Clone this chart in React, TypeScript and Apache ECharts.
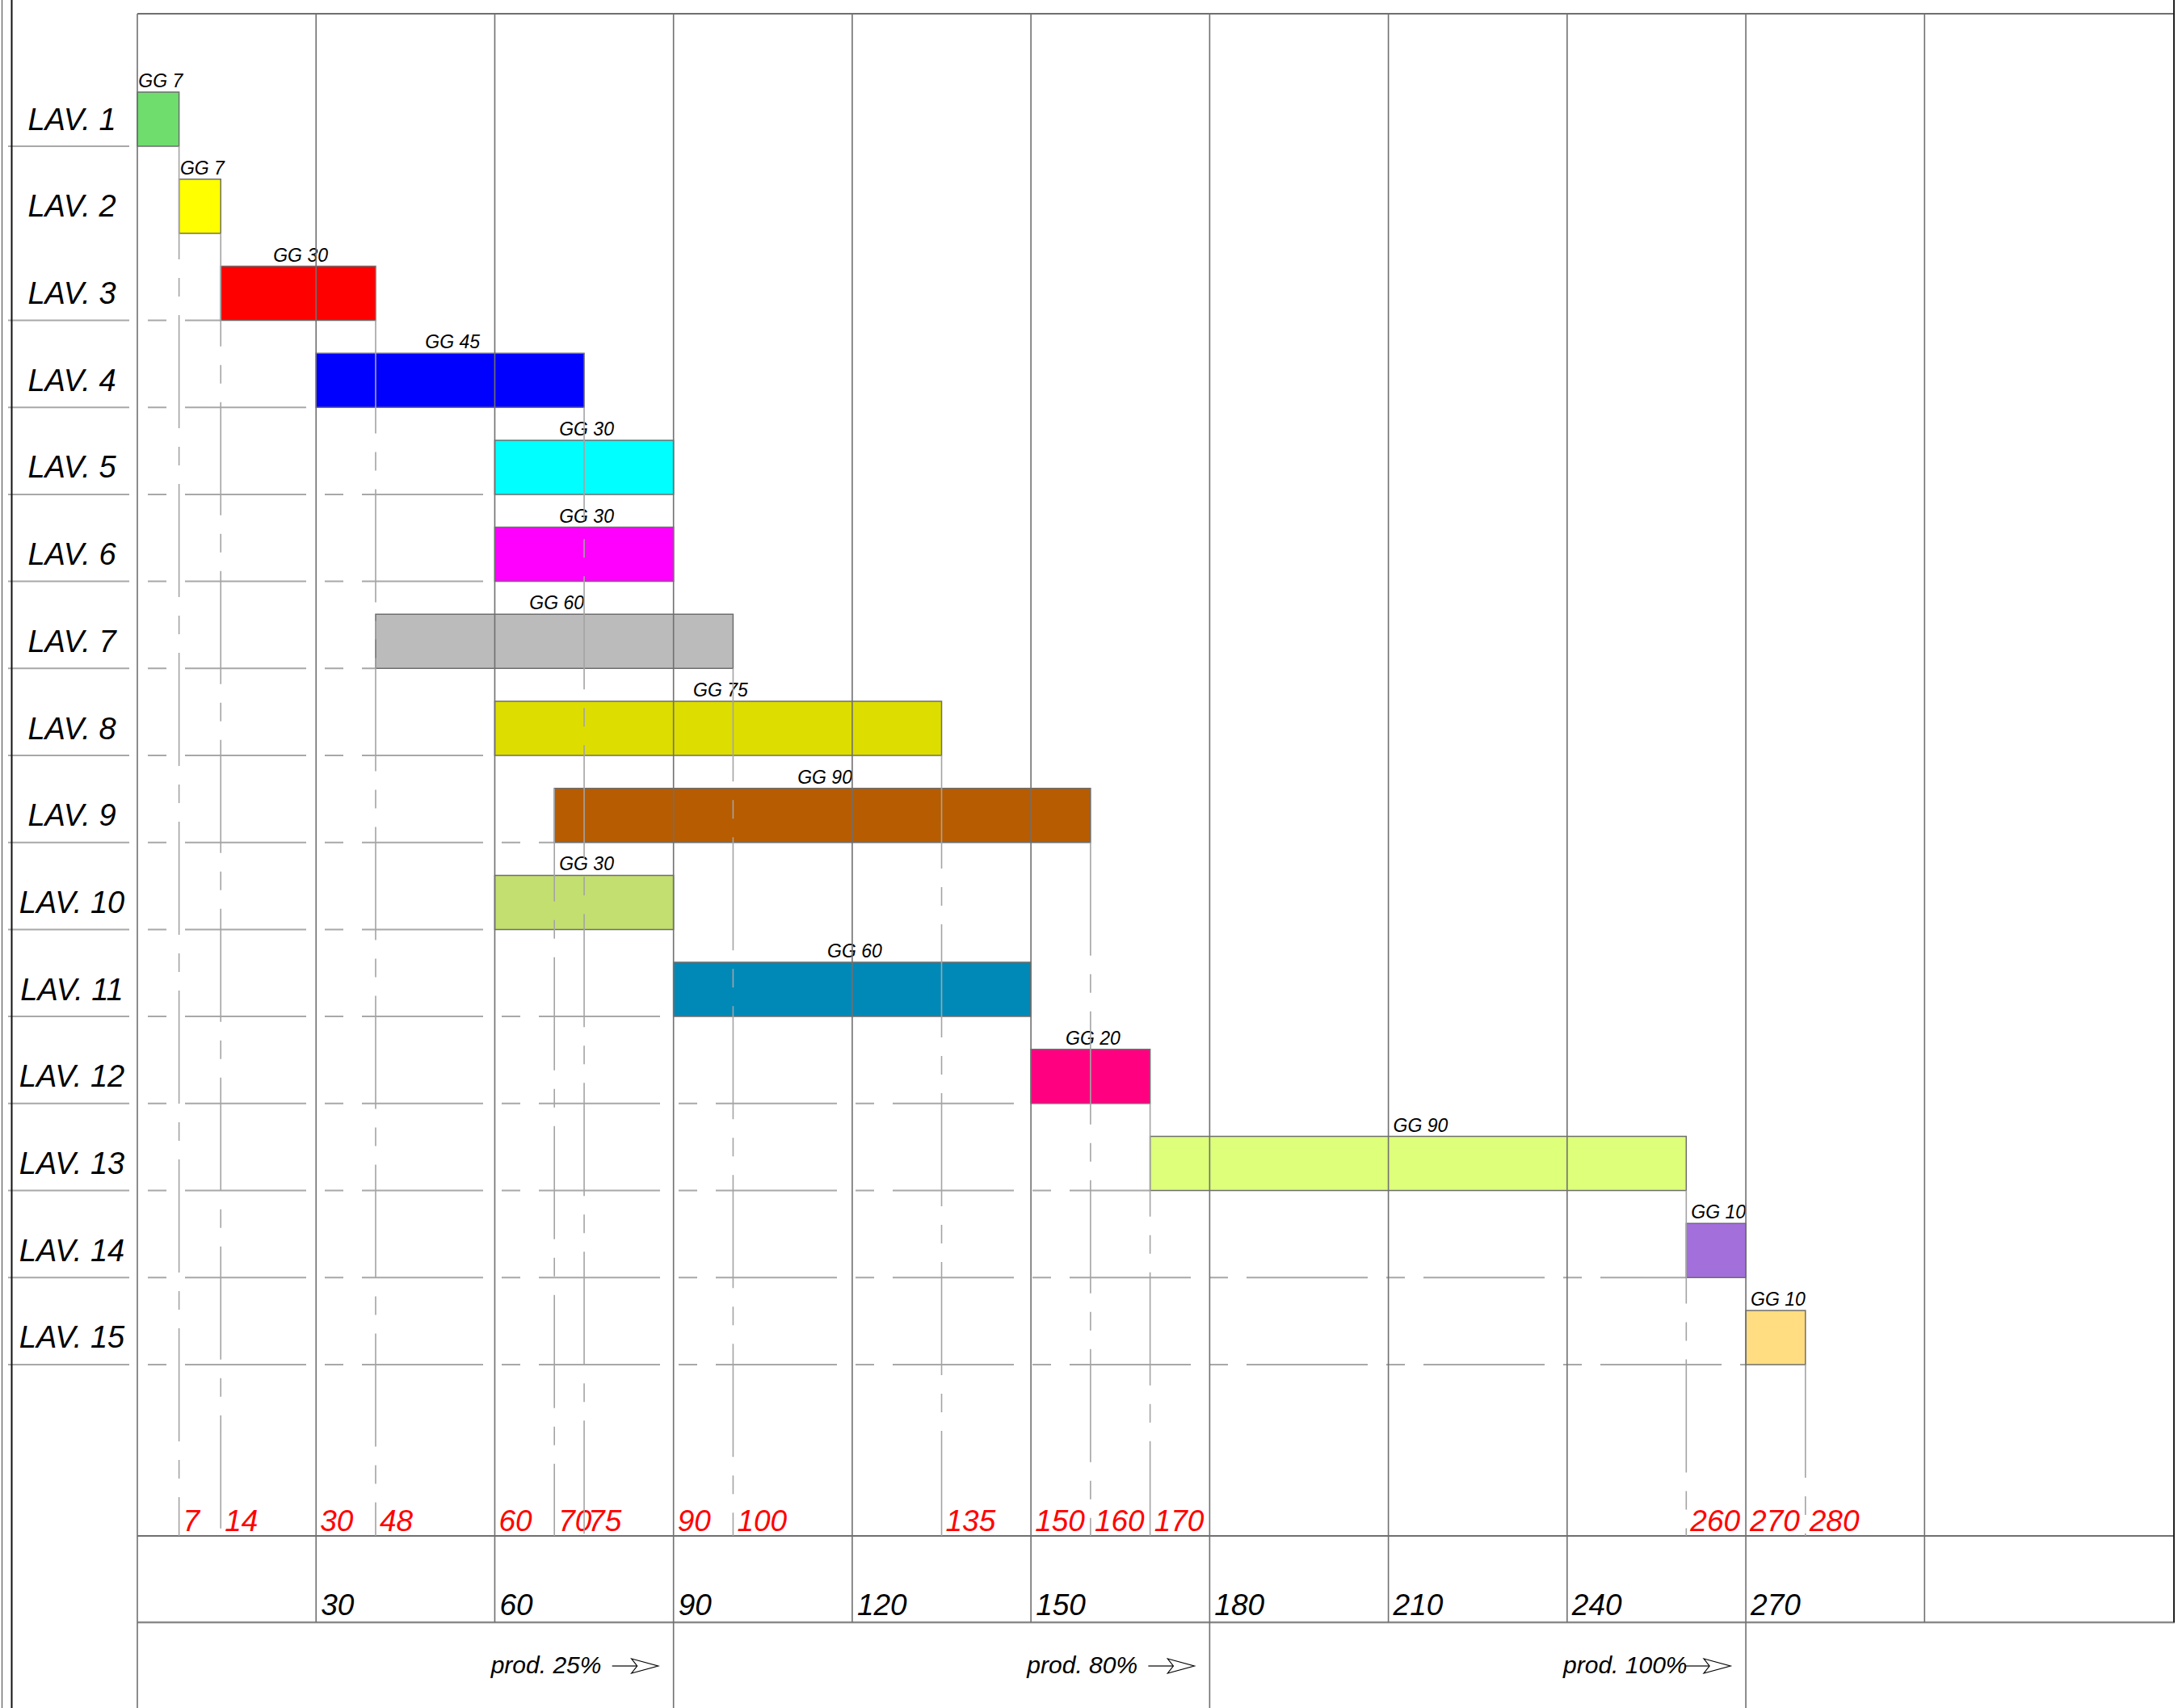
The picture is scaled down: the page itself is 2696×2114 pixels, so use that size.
import React, { useEffect, useRef } from "react";
import * as echarts from "echarts";

// ---- data ----
const tasks = [
  "LAV. 1", "LAV. 2", "LAV. 3", "LAV. 4", "LAV. 5", "LAV. 6", "LAV. 7", "LAV. 8",
  "LAV. 9", "LAV. 10", "LAV. 11", "LAV. 12", "LAV. 13", "LAV. 14", "LAV. 15",
];
const taskStart = [0, 7, 14, 30, 60, 60, 40, 60, 70, 60, 90, 150, 170, 260, 270];
const taskEnd = [7, 14, 40, 75, 90, 90, 100, 135, 160, 90, 150, 170, 260, 270, 280];
const taskDays = [7, 7, 30, 45, 30, 30, 60, 75, 90, 30, 60, 20, 90, 10, 10];
const taskColors = [
  "#6EDD6E", "#FFFF00", "#FF0000", "#0000FF", "#00FFFF", "#FF00FF", "#BBBBBB", "#DDDD00",
  "#B75C00", "#C3DF6F", "#0089B7", "#FF0080", "#DDFF7A", "#A36FDB", "#FFDD80",
];
const milestoneDays = [7, 14, 30, 40, 60, 70, 75, 90, 100, 135, 150, 160, 170, 260, 270, 280];
const milestoneLabels = ["7", "14", "30", "48", "60", "70", "75", "90", "100", "135", "150", "160", "170", "260", "270", "280"];
const scaleTicks = [0, 30, 60, 90, 120, 150, 180, 210, 240, 270, 300];
const scaleLabels = ["", "30", "60", "90", "120", "150", "180", "210", "240", "270", ""];
const phaseBoundaries = [0, 90, 180, 270];
const phaseLabels = ["prod. 25%", "prod. 80%", "prod. 100%"];
const phaseEnds = [90, 180, 270];
const rowsWithoutGuide = ["LAV. 2"];
const DAY_MAX = 342;

// ---- layout ----
const W = 2696;
const H = 2114;
const FONT = '"Liberation Sans", Arial, sans-serif';
const FRAME_TOP = 17;
const RED_LINE = 1901;
const SCALE_LINE = 2008;
const PAGE_BOTTOM = 2114;
const BAR_RATIO = 0.622;
const GRID_COLOR = "#707070";
const GUIDE_COLOR = "#a8a8a8";
const DASH = [150, 23, 23, 23];

function txt(x: number, y: number, text: string, size: number, fill: string, align: string, vAlign = "middle") {
  return {
    type: "text",
    x,
    y,
    style: {
      text,
      fill,
      fontSize: size,
      fontStyle: "italic",
      fontFamily: FONT,
      align,
      verticalAlign: vAlign,
    },
  };
}

function line(x1: number, y1: number, x2: number, y2: number, stroke: string, lineWidth: number, lineDash?: number[]) {
  const style: any = { stroke, lineWidth };
  if (lineDash) style.lineDash = lineDash;
  return { type: "line", shape: { x1, y1, x2, y2 }, style };
}

export default function App() {
  const ref = useRef<HTMLDivElement>(null);

  useEffect(() => {
    if (!ref.current) return;
    const chart = echarts.init(ref.current, null, { renderer: "svg" });

    const barsSeries = {
      type: "custom",
      silent: true,
      data: tasks.map((t, i) => [taskStart[i], i, taskEnd[i]]),
      encode: { x: [0, 2], y: 1 },
      renderItem: (params: any, api: any) => {
        const i = params.dataIndex;
        const p0 = api.coord([api.value(0), api.value(1)]);
        const p1 = api.coord([api.value(2), api.value(1)]);
        const band = api.size([0, 1])[1];
        const h = band * BAR_RATIO;
        const top = p0[1] - h / 2;
        const bottom = p0[1] + h / 2;
        const children: any[] = [];
        if (!rowsWithoutGuide.includes(tasks[i])) {
          children.push(line(10, bottom, p0[0], bottom, GUIDE_COLOR, 2, DASH));
        }
        children.push({
          type: "rect",
          shape: { x: p0[0], y: top, width: p1[0] - p0[0], height: h },
          style: { fill: taskColors[i], stroke: "#6e6e6e", lineWidth: 1.5 },
        });
        children.push(txt((p0[0] + p1[0]) / 2 + 3, top - 14, "GG " + taskDays[i], 23, "#000", "center"));
        return { type: "group", children };
      },
    };

    const frameSeries = {
      type: "custom",
      silent: true,
      data: [[0, 0]],
      renderItem: (params: any, api: any) => {
        const x0 = api.coord([0, 0])[0];
        const xR = api.coord([DAY_MAX, 0])[0];
        const children: any[] = [];
        // outer left double line
        children.push(line(2.5, 0, 2.5, PAGE_BOTTOM, "#444", 1));
        children.push(line(14.5, 0, 14.5, PAGE_BOTTOM, "#111", 2));
        // horizontal frame lines
        children.push(line(x0, FRAME_TOP, xR, FRAME_TOP, GRID_COLOR, 2));
        children.push(line(x0, RED_LINE, xR, RED_LINE, GRID_COLOR, 2));
        children.push(line(x0, SCALE_LINE, xR, SCALE_LINE, "#8a8a8a", 2.5));
        // right border
        children.push(line(xR - 1, 0, xR - 1, SCALE_LINE, "#222", 2));
        // vertical scale lines + labels
        scaleTicks.forEach((t, k) => {
          const x = api.coord([t, 0])[0];
          const yEnd = phaseBoundaries.includes(t) ? PAGE_BOTTOM : SCALE_LINE;
          children.push(line(x, FRAME_TOP, x, yEnd, GRID_COLOR, 1.6));
          if (scaleLabels[k]) {
            children.push(txt(x + 6, 1986, scaleLabels[k], 37, "#000", "left"));
          }
        });
        // phase labels with arrows
        phaseEnds.forEach((d, k) => {
          const tip = api.coord([d, 0])[0] - 19;
          const y = 2062;
          children.push(txt(tip - 207, 2060, phaseLabels[k], 30, "#000", "left"));
          children.push(line(tip - 57, y, tip - 26, y, "#000", 1.2));
          children.push({
            type: "polygon",
            shape: { points: [[tip - 33, y - 9], [tip, y], [tip - 33, y + 9], [tip - 26, y]] },
            style: { fill: "none", stroke: "#000", lineWidth: 1.2 },
          });
        });
        return { type: "group", children };
      },
    };

    const milestoneSeries = {
      type: "custom",
      silent: true,
      data: milestoneDays.map((d, i) => [d, 0, i]),
      encode: { x: 0, y: 1 },
      renderItem: (params: any, api: any) => {
        const i = params.dataIndex;
        const d = milestoneDays[i];
        const x = api.coord([d, 0])[0];
        const band = api.size([0, 1])[1];
        const half = (band * BAR_RATIO) / 2;
        const children: any[] = [];
        if (!scaleTicks.includes(d)) {
          let yStart: number | null = null;
          const kEnd = taskEnd.indexOf(d);
          if (kEnd >= 0) {
            yStart = api.coord([d, kEnd])[1] + half;
          } else {
            const kStart = taskStart.indexOf(d);
            if (kStart >= 0) yStart = api.coord([d, kStart])[1] - half;
          }
          if (yStart !== null) {
            children.push(line(x, yStart, x, RED_LINE, "#a4a4a4", 1.6, [140, 23, 23, 23]));
          }
        }
        children.push(txt(x + 5, 1882, milestoneLabels[i], 37, "#FF0000", "left"));
        return { type: "group", children };
      },
    };

    chart.setOption({
      animation: false,
      backgroundColor: "#ffffff",
      grid: { left: 170, right: 4, top: 93.75, height: 1615.5 },
      xAxis: {
        type: "value",
        min: 0,
        max: DAY_MAX,
        show: false,
        splitLine: { show: false },
      },
      yAxis: {
        type: "category",
        data: tasks,
        inverse: true,
        axisLine: { show: false },
        axisTick: { show: false },
        splitLine: { show: false },
        axisLabel: {
          margin: 81,
          align: "center",
          fontSize: 38,
          fontStyle: "italic",
          fontFamily: FONT,
          color: "#000",
        },
      },
      series: [barsSeries, frameSeries, milestoneSeries],
    });

    return () => {
      chart.dispose();
    };
  }, []);

  return (
    <div
      ref={ref}
      style={{ position: "absolute", left: 0, top: 0, width: W, height: H, background: "#fff" }}
    />
  );
}
